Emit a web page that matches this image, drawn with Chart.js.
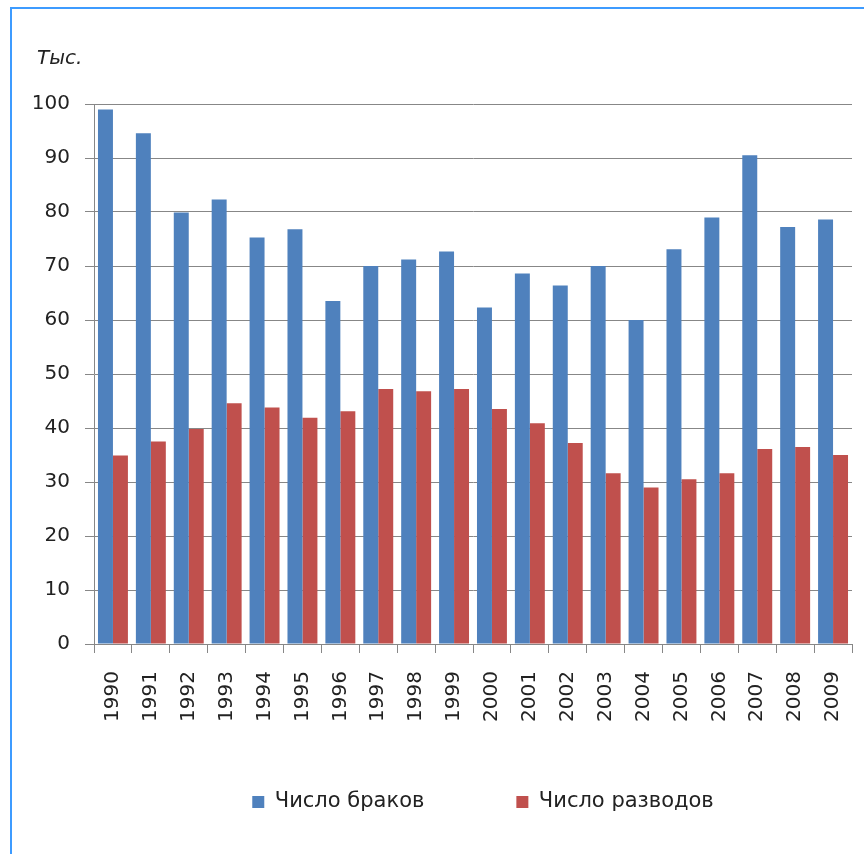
<!DOCTYPE html>
<html>
<head>
<meta charset="utf-8">
<script src="https://cdn.jsdelivr.net/npm/chart.js@4"></script>
<style>
  html, body { margin: 0; padding: 0; background: #fff; overflow: hidden; }
  #wrap { position: relative; width: 864px; height: 854px; }
  #frame { position: absolute; left: 10px; top: 7px; right: -4px; bottom: -4px; border-left: 2px solid #3d9bff; border-top: 2px solid #3d9bff; pointer-events: none; }
  canvas { position: absolute; left: 0; top: 0; }
</style>
</head>
<body>
<div id="wrap">
  <canvas id="c" width="864" height="854"></canvas>
  <div id="frame"></div>
</div>
<script>
const years = ['1990','1991','1992','1993','1994','1995','1996','1997','1998','1999','2000','2001','2002','2003','2004','2005','2006','2007','2008','2009'];
const marriages = [99.0, 94.6, 79.9, 82.3, 75.3, 76.8, 63.5, 70.0, 71.2, 72.7, 62.3, 68.6, 66.4, 70.0, 60.0, 73.1, 79.0, 90.5, 77.2, 78.6];
const divorces = [34.9, 37.5, 39.8, 44.6, 43.8, 41.9, 43.1, 47.2, 46.8, 47.2, 43.5, 40.9, 37.2, 31.6, 29.0, 30.5, 31.6, 36.1, 36.5, 35.0];
const seriesNames = ['Число браков', 'Число разводов'];
const unitLabel = 'Тыс.';

const FONT = 'DejaVu Sans';
const LEGEND_PAD = 92;
const LEGEND_FONT = 21;

const unitPlugin = {
  id: 'unitLabel',
  afterLayout(chart) {
    const lg = chart.legend;
    if (lg) {
      lg.left = 114;
      lg.right = 852;
      lg.top = 802 - LEGEND_FONT / 2 - LEGEND_PAD;
      lg.bottom = 854;
    }
  },
  afterDraw(chart) {
    const ctx = chart.ctx;
    ctx.save();
    ctx.font = 'oblique 20px "' + FONT + '"';
    ctx.fillStyle = '#222';
    ctx.textAlign = 'left';
    ctx.textBaseline = 'alphabetic';
    ctx.fillText(unitLabel, 37, 64);
    ctx.restore();
  }
};

new Chart(document.getElementById('c'), {
  type: 'bar',
  data: {
    labels: years,
    datasets: [
      { label: seriesNames[0], data: marriages, backgroundColor: '#4f81bd', borderWidth: 0 },
      { label: seriesNames[1], data: divorces, backgroundColor: '#c0504d', borderWidth: 0 }
    ]
  },
  plugins: [unitPlugin],
  options: {
    responsive: false,
    animation: false,
    layout: { padding: { left: 0, right: 12, top: 104, bottom: 80 } },
    datasets: { bar: { categoryPercentage: 0.79, barPercentage: 1.0 } },
    plugins: {
      title: { display: false },
      tooltip: { enabled: false },
      legend: {
        position: 'bottom',
        maxHeight: 30,
        labels: {
          boxWidth: 12, boxHeight: 12, padding: LEGEND_PAD,
          color: '#222',
          font: { family: FONT, size: LEGEND_FONT }
        }
      }
    },
    scales: {
      x: {
        grid: { display: true, drawOnChartArea: false, drawTicks: true, tickLength: 9, color: '#878787', offset: true },
        border: { display: true, color: '#878787', width: 1 },
        ticks: { minRotation: 90, maxRotation: 90, autoSkip: false, padding: 18, color: '#222', font: { family: FONT, size: 20 } },
        afterFit(scale) { scale.height = 100; scale.paddingLeft = 0; scale.paddingRight = 0; }
      },
      y: {
        min: 0, max: 100,
        grid: { color: '#878787', lineWidth: 1, drawTicks: true, tickLength: 9 },
        border: { display: true, color: '#878787', width: 1 },
        ticks: { stepSize: 10, padding: 15, color: '#222', font: { family: FONT, size: 20 } },
        afterFit(scale) { scale.width = 94; scale.paddingTop = 0; scale.paddingBottom = 0; }
      }
    }
  }
});
</script>
</body>
</html>
